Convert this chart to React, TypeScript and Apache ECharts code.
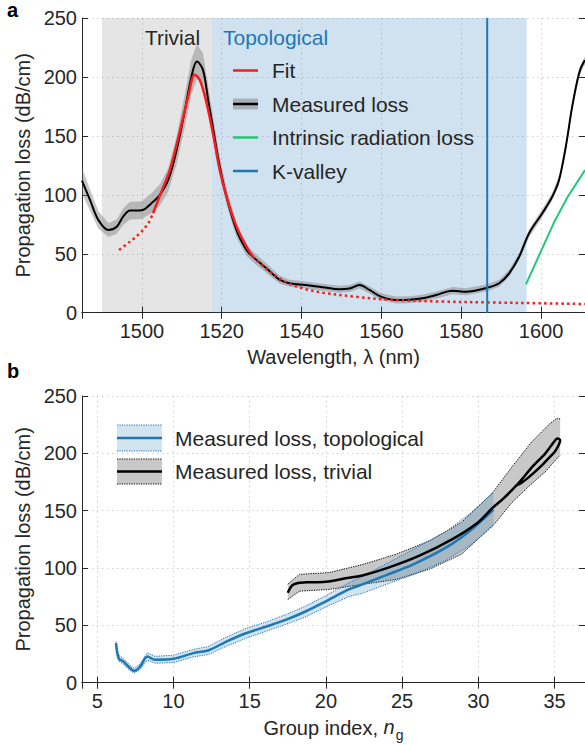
import React, { useEffect, useRef } from 'react';
import * as echarts from 'echarts';

const FONT = '"Liberation Sans", Arial, Helvetica, sans-serif';
const TXT = '#262626';
const BLUE = '#1f77b4';
const RED = '#f51d1d';
const GREEN = '#25c77a';

// ---------- Panel a ----------
const lambdaMin = 1485;
const lambdaMax = 1611;
const trivialRegion = [1490, 1517.4];
const topoRegion = [1517.4, 1596.4];
const kValley = 1586.5;

const measLambda = [1485, 1487, 1489.1, 1491.6, 1493.7, 1495.3, 1497, 1500, 1502.4, 1504.5, 1506.6, 1508.7, 1510.8, 1512.4, 1513.8, 1515.3, 1516.6, 1517.9, 1519.5, 1521.2, 1523.7, 1526.2, 1527.8, 1531.2, 1534.5, 1537, 1541, 1545.3, 1549.5, 1552, 1554.5, 1557, 1559.9, 1563.7, 1567, 1570.3, 1573.7, 1577.8, 1581.2, 1586.5, 1589.5, 1592, 1594.5, 1597, 1600.3, 1602.8, 1604.5, 1606.2, 1607.8, 1609.5, 1610.75, 1611.5];
const measLoss = [112, 95.7, 78.7, 70.2, 73, 81.5, 86.6, 87, 92.9, 100, 112.6, 138, 172, 200, 213, 206, 180.6, 155, 124, 98.5, 70, 53.2, 47.5, 37.7, 28, 25, 23.5, 21.6, 19.9, 20.5, 23.5, 19.3, 13.6, 10.8, 11, 12.2, 15, 18.7, 17.8, 21.2, 25, 33.4, 47.5, 67.4, 84.4, 98.5, 112.6, 141, 175, 203, 213, 214];
const measErr = [11, 9, 7.5, 6, 6, 7, 7.5, 7.5, 8.5, 9, 10, 12, 14, 15, 15, 14, 12, 10, 8, 7, 6, 5, 4.5, 4, 3.5, 3, 3, 3, 3, 3, 3, 3, 3, 3, 3, 3, 3, 3, 3, 3, 3, 3, 3, 3.5, 3.5, 3.5, 3.5, 3.5, 3.5, 3.5, 3.5, 3.5];

const fitLambda = [1494.3, 1497, 1499.5, 1501.6, 1502.8, 1504.9, 1507, 1509.5, 1511.6, 1513.25, 1514.5, 1516.2, 1517.8, 1519.5, 1521.2, 1523.7, 1526.2, 1527.8, 1531.2, 1534.5, 1537, 1541, 1545.3, 1553.7, 1562, 1574.75, 1587, 1599.5, 1611];
const fitLoss = [53.2, 60.3, 67.4, 75.9, 84.4, 102.7, 121, 153.7, 183.4, 201.8, 197.5, 177.8, 152.3, 121, 98.5, 73, 56, 47.5, 37, 29, 24.5, 20, 17, 13.5, 11, 9.5, 8.7, 8, 7.4];
const fitSolidFrom = 1502.8;
const fitSolidTo = 1527.8;

const intrinsicLambda = [1596.2, 1603.3, 1606.6, 1611];
const intrinsicLoss = [24, 77, 98, 121];

// ---------- Panel b ----------
const ngMin = 4;
const ngMax = 37;
const topoN = [6.23, 6.4, 6.72, 7.05, 7.42, 7.81, 8.29, 8.79, 10, 11.3, 12.27, 13.5, 14.8, 16.1, 17.4, 18.7, 20, 21.5, 22.4, 24, 25.7, 27.9, 29.5, 31.0];
const topoLoss = [34.5, 21.4, 18.4, 14, 10.3, 14, 22.8, 20, 20.8, 25.8, 28.1, 36, 43.3, 49, 55, 62.3, 71, 81.3, 85.7, 94, 103, 118, 133, 151];
const topoHi = [36, 24, 21, 16.5, 12.5, 16.5, 26, 23, 24, 29, 31.5, 40, 47.5, 53, 59.5, 67, 76, 87, 93, 104, 116, 132, 148, 166];
const topoLo = [33, 19, 16, 11.5, 8.5, 11.5, 19.5, 17, 17.5, 22.5, 24.5, 32, 39, 45, 51, 57.5, 66, 75, 78, 86, 94, 107, 120, 137];

const trivN = [17.5, 17.8, 18.27, 18.7, 20, 21.5, 22.4, 24.1, 26.1, 28.3, 30, 30.9, 31.6, 32.5, 33.6, 34.4, 34.8, 35.2, 35.37, 35.05, 34.7, 34.17, 33.3, 32.8, 32.5];
const trivLoss = [78.4, 85, 87.2, 87.5, 88, 91.6, 93.5, 100.3, 110.5, 125.2, 140, 152, 160, 172, 189, 200, 207, 213, 211.5, 202, 197, 189.5, 179, 174, 172];
const trivUpperN = [17.5, 18.27, 20.2, 22.4, 24.6, 26.8, 28.9, 30.9, 32.2, 33.5, 34.7, 35.15, 35.37];
const trivUpper = [86, 94.5, 96, 103, 112, 123.7, 139.8, 165, 188, 210, 226, 230.5, 230];
const trivLowerN = [17.5, 18.27, 20.2, 22.4, 24.6, 26.8, 28.9, 31.1, 32.2, 33.3, 34.4, 35.26, 35.37];
const trivLower = [72.5, 79.8, 81.3, 85.7, 90, 99, 112, 139, 157, 171, 184, 197, 198];

const yTicksMax = 250;
const yTickStep = 50;

const zip = (a: number[], b: number[]) => a.map((v, i) => [v, b[i]]);

function bandSeries(xi: number, yi: number, upper: number[][], lower: number[][], fill: string, edge: string | null, z: number) {
  return {
    type: 'custom',
    xAxisIndex: xi,
    yAxisIndex: yi,
    silent: true,
    z,
    data: [upper[0]],
    renderItem: (_p: any, api: any) => {
      const up = upper.map((p) => api.coord(p));
      const lo = lower.map((p) => api.coord(p));
      const children: any[] = [
        { type: 'polygon', shape: { points: up.concat(lo.slice().reverse()) }, style: { fill, stroke: null } },
      ];
      if (edge) {
        children.push({ type: 'polyline', shape: { points: up }, style: { fill: null, stroke: edge, lineWidth: 1, lineDash: [1.2, 1.2] } });
        children.push({ type: 'polyline', shape: { points: lo }, style: { fill: null, stroke: edge, lineWidth: 1, lineDash: [1.2, 1.2] } });
      }
      return { type: 'group', children };
    },
  };
}

function regionSeries() {
  const regions = [trivialRegion, topoRegion];
  const colors = ['rgba(0,0,0,0.1)', 'rgba(31,119,180,0.21)'];
  return {
    type: 'custom',
    xAxisIndex: 0,
    yAxisIndex: 0,
    silent: true,
    z: 1,
    data: regions.map((r) => [r[0], r[1]]),
    renderItem: (p: any, api: any) => {
      const a = api.coord([api.value(0), yTicksMax]);
      const b = api.coord([api.value(1), 0]);
      return { type: 'rect', shape: { x: a[0], y: a[1], width: b[0] - a[0], height: b[1] - a[1] }, style: { fill: colors[p.dataIndex] } };
    },
  };
}

const axisLine = { show: true, lineStyle: { color: '#262626', width: 1 } };
const tick = { show: true, inside: true, length: 6, lineStyle: { color: '#262626', width: 1 } };
const split = { show: true, lineStyle: { color: 'rgba(0,0,0,0.18)', width: 1, type: [1.5, 3.5] } };
const labelStyle = { color: TXT, fontSize: 20, fontFamily: FONT };
const nameStyle = { color: TXT, fontSize: 20, fontFamily: FONT };

function buildOption(): any {
  const fitPts = zip(fitLambda, fitLoss);
  const fitLeft = fitPts.filter((p) => p[0] <= fitSolidFrom);
  const fitSolid = fitPts.filter((p) => p[0] >= fitSolidFrom && p[0] <= fitSolidTo);
  const fitRight = fitPts.filter((p) => p[0] >= fitSolidTo);

  const measUpper = measLambda.map((l, i) => [l, measLoss[i] + measErr[i]]);
  const measLower = measLambda.map((l, i) => [l, measLoss[i] - measErr[i]]);

  const xa = (grid: number, min: number, max: number, step: number, name: string, nameTS: any) => ({
    type: 'value', gridIndex: grid, min, max, splitNumber: Math.round((max - min) / step),
    axisLine, axisTick: tick, splitLine: split,
    axisLabel: { ...labelStyle, margin: 8, showMinLabel: false, showMaxLabel: false, formatter: (v: number) => (Math.abs(v / step - Math.round(v / step)) < 1e-6 ? String(v) : '') },
    name, nameLocation: 'middle', nameGap: 34, nameTextStyle: nameTS,
  });
  const xaTop = (grid: number, min: number, max: number, step: number) => ({
    type: 'value', gridIndex: grid, min, max, position: 'top', splitNumber: Math.round((max - min) / step),
    axisLine, axisTick: tick, splitLine: { show: false }, axisLabel: { show: false },
  });
  const ya = (grid: number) => ({
    type: 'value', gridIndex: grid, min: 0, max: yTicksMax, interval: yTickStep,
    axisLine, axisTick: tick, splitLine: split,
    axisLabel: { ...labelStyle, margin: 5 },
    name: 'Propagation loss (dB/cm)', nameLocation: 'middle', nameGap: 41, nameTextStyle: nameStyle,
  });
  const yaRight = (grid: number) => ({
    type: 'value', gridIndex: grid, min: 0, max: yTicksMax, interval: yTickStep, position: 'right',
    axisLine, axisTick: tick, splitLine: { show: false }, axisLabel: { show: false },
  });

  const legA = [
    { y: 70.5, color: RED, label: 'Fit', band: false },
    { y: 104, color: '#000', label: 'Measured loss', band: true },
    { y: 137.5, color: GREEN, label: 'Intrinsic radiation loss', band: false },
    { y: 171, color: BLUE, label: 'K-valley', band: false },
  ];
  const graphics: any[] = [];
  legA.forEach((r) => {
    if (r.band) graphics.push({ type: 'rect', shape: { x: 233, y: r.y - 5.5, width: 25, height: 11 }, style: { fill: 'rgba(120,120,120,0.45)' }, z: 50 });
    graphics.push({ type: 'line', shape: { x1: 233, y1: r.y, x2: 258, y2: r.y }, style: { stroke: r.color, lineWidth: 2.5 }, z: 51 });
    graphics.push({ type: 'text', x: 272, y: r.y, style: { text: r.label, fill: TXT, font: `21px ${FONT}`, textVerticalAlign: 'middle' }, z: 51 });
  });
  graphics.push({ type: 'text', x: 172.5, y: 37, style: { text: 'Trivial', fill: TXT, font: `21px ${FONT}`, textAlign: 'center', textVerticalAlign: 'middle' }, z: 51 });
  graphics.push({ type: 'text', x: 223, y: 37, style: { text: 'Topological', fill: BLUE, font: `21px ${FONT}`, textVerticalAlign: 'middle' }, z: 51 });
  graphics.push({ type: 'text', x: 7, y: 10, style: { text: 'a', fill: '#000', font: `bold 20px ${FONT}`, textVerticalAlign: 'middle' }, z: 51 });
  graphics.push({ type: 'text', x: 7, y: 371, style: { text: 'b', fill: '#000', font: `bold 20px ${FONT}`, textVerticalAlign: 'middle' }, z: 51 });

  const legB = [
    { y: 438, h: 26, fill: 'rgba(31,119,180,0.2)', edge: BLUE, line: BLUE, label: 'Measured loss, topological' },
    { y: 471.5, h: 25, fill: '#c8c8c8', edge: '#000', line: '#000', label: 'Measured loss, trivial' },
  ];
  legB.forEach((r) => {
    graphics.push({ type: 'rect', shape: { x: 117, y: r.y - r.h / 2, width: 45, height: r.h }, style: { fill: r.fill }, z: 50 });
    graphics.push({ type: 'line', shape: { x1: 117, y1: r.y - r.h / 2, x2: 162, y2: r.y - r.h / 2 }, style: { stroke: r.edge, lineWidth: 1, lineDash: [1.2, 1.2] }, z: 51 });
    graphics.push({ type: 'line', shape: { x1: 117, y1: r.y + r.h / 2, x2: 162, y2: r.y + r.h / 2 }, style: { stroke: r.edge, lineWidth: 1, lineDash: [1.2, 1.2] }, z: 51 });
    graphics.push({ type: 'line', shape: { x1: 117, y1: r.y, x2: 162, y2: r.y }, style: { stroke: r.line, lineWidth: 2.5 }, z: 51 });
    graphics.push({ type: 'text', x: 175, y: r.y, style: { text: r.label, fill: TXT, font: `21px ${FONT}`, textVerticalAlign: 'middle' }, z: 51 });
  });

  return {
    animation: false,
    backgroundColor: '#fff',
    textStyle: { fontFamily: FONT },
    grid: [
      { left: 82, top: 18, width: 504, height: 294.7 },
      { left: 82, top: 396, width: 505, height: 286.7 },
    ],
    xAxis: [
      xa(0, lambdaMin, lambdaMax, 20, 'Wavelength, λ (nm)', nameStyle),
      xaTop(0, lambdaMin, lambdaMax, 20),
      xa(1, ngMin, ngMax, 5, 'Group index, {it|n}{sub|g}', {
        ...nameStyle,
        rich: {
          it: { fontSize: 20, fontFamily: FONT, fontStyle: 'italic', color: TXT, verticalAlign: 'top', lineHeight: 22 },
          sub: { fontSize: 14, fontFamily: FONT, color: TXT, verticalAlign: 'top', lineHeight: 14, padding: [11, 0, 0, 1] },
        },
      }),
      xaTop(1, ngMin, ngMax, 5),
    ],
    yAxis: [ya(0), yaRight(0), ya(1), yaRight(1)],
    graphic: graphics,
    series: [
      regionSeries(),
      bandSeries(0, 0, measUpper, measLower, 'rgba(120,120,120,0.42)', null, 3),
      {
        type: 'line', xAxisIndex: 0, yAxisIndex: 0, data: zip(measLambda, measLoss), showSymbol: false, smooth: 0.35, z: 4,
        lineStyle: { color: '#000', width: 2 }, silent: true,
      },
      { type: 'line', xAxisIndex: 0, yAxisIndex: 0, data: fitLeft, showSymbol: false, smooth: 0.35, z: 5, silent: true, lineStyle: { color: RED, width: 2.5, type: [2.5, 3.2] } },
      { type: 'line', xAxisIndex: 0, yAxisIndex: 0, data: fitSolid, showSymbol: false, smooth: 0.35, z: 5, silent: true, lineStyle: { color: RED, width: 2.5 } },
      { type: 'line', xAxisIndex: 0, yAxisIndex: 0, data: fitRight, showSymbol: false, smooth: 0.35, z: 5, silent: true, lineStyle: { color: RED, width: 2.5, type: [2.5, 3.2] } },
      { type: 'line', xAxisIndex: 0, yAxisIndex: 0, data: zip(intrinsicLambda, intrinsicLoss), showSymbol: false, z: 5, silent: true, lineStyle: { color: GREEN, width: 2 } },
      { type: 'line', xAxisIndex: 0, yAxisIndex: 0, data: [[kValley, 0], [kValley, yTicksMax]], showSymbol: false, z: 5, silent: true, lineStyle: { color: BLUE, width: 2 } },

      bandSeries(2, 2, zip(trivUpperN, trivUpper), zip(trivLowerN, trivLower), '#c8c8c8', '#000', 2),
      bandSeries(2, 2, zip(topoN, topoHi), zip(topoN, topoLo), 'rgba(31,119,180,0.2)', BLUE, 3),
      { type: 'line', xAxisIndex: 2, yAxisIndex: 2, data: zip(topoN, topoLoss), showSymbol: false, smooth: 0.3, z: 4, silent: true, lineStyle: { color: BLUE, width: 2.5 } },
      { type: 'line', xAxisIndex: 2, yAxisIndex: 2, data: zip(trivN, trivLoss), showSymbol: false, smooth: 0.3, z: 5, silent: true, lineStyle: { color: '#000', width: 2.5 } },
    ],
  };
}

export default function App() {
  const ref = useRef<HTMLDivElement>(null);
  useEffect(() => {
    const chart = echarts.init(ref.current as HTMLDivElement, null, { renderer: 'svg' });
    chart.setOption(buildOption());
    return () => chart.dispose();
  }, []);
  return <div ref={ref} style={{ position: 'absolute', left: 0, top: 0, width: 585, height: 745, background: '#fff' }} />;
}
